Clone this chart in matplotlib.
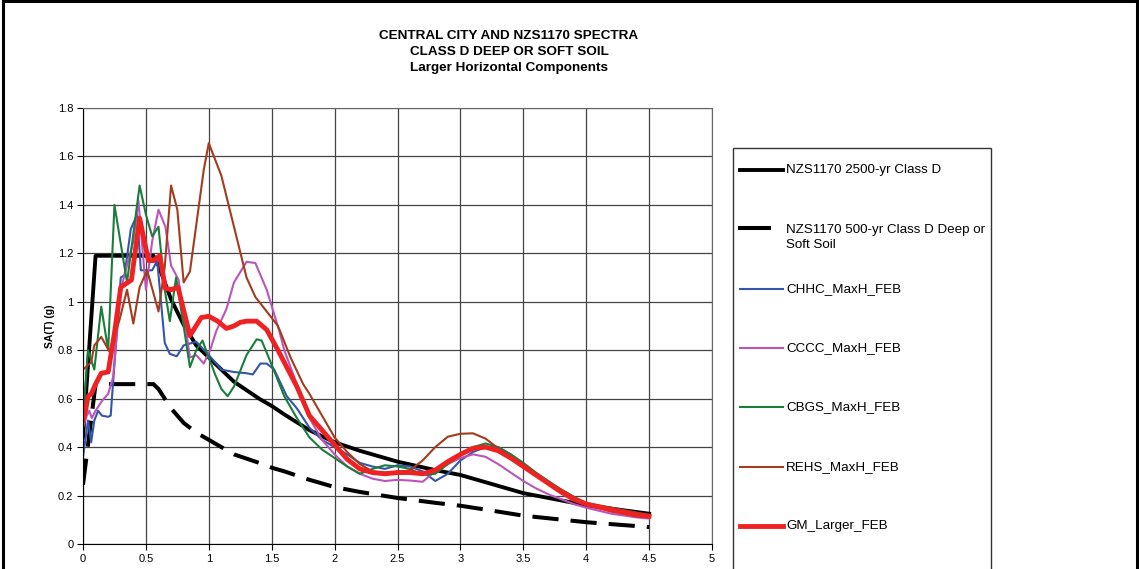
import matplotlib
matplotlib.use("Agg")
import matplotlib.pyplot as plt
from matplotlib.lines import Line2D
from matplotlib.patches import Rectangle

plt.rcParams['font.family'] = ['Liberation Sans', 'DejaVu Sans']

W, H = 1139, 569

# NZS1170 code spectra
t_code = [0, 0.1, 0.2, 0.3, 0.4, 0.5, 0.56, 0.6, 0.7, 0.8, 0.9, 1.0, 1.2, 1.4, 1.5, 1.6,
          1.8, 2.0, 2.2, 2.5, 2.8, 3.0, 3.2, 3.5, 4.0, 4.5]
sa_2500 = [0.44, 1.19, 1.19, 1.19, 1.19, 1.19, 1.19, 1.15, 1.01, 0.905, 0.82, 0.77, 0.67, 0.60,
           0.57, 0.535, 0.47, 0.42, 0.385, 0.34, 0.305, 0.285, 0.255, 0.21, 0.16, 0.125]
sa_500 = [0.245, 0.66, 0.66, 0.66, 0.66, 0.66, 0.66, 0.64, 0.56, 0.50, 0.46, 0.43, 0.37, 0.335,
          0.315, 0.30, 0.265, 0.235, 0.215, 0.19, 0.17, 0.158, 0.142, 0.117, 0.09, 0.07]

# recorded spectra
t_chhc = [0, 0.04, 0.065, 0.09, 0.12, 0.15, 0.2, 0.22, 0.3, 0.33, 0.38, 0.43, 0.46, 0.5, 0.55,
          0.59, 0.65, 0.69, 0.745, 0.8, 0.9, 1.0, 1.1, 1.2, 1.3, 1.35, 1.41, 1.46, 1.52, 1.62,
          1.7, 1.8, 1.9, 2.0, 2.1, 2.2, 2.3, 2.4, 2.5, 2.6, 2.7, 2.8, 2.9, 3.0, 3.1, 3.2, 3.3,
          3.4, 3.5, 3.6, 3.7, 3.8, 3.9, 4.0, 4.2, 4.4, 4.5]
sa_chhc = [0.36, 0.51, 0.42, 0.51, 0.55, 0.53, 0.525, 0.53, 1.10, 1.11, 1.30, 1.36, 1.13, 1.13,
           1.13, 1.17, 0.83, 0.785, 0.775, 0.82, 0.835, 0.78, 0.72, 0.71, 0.705, 0.70, 0.745,
           0.745, 0.72, 0.61, 0.56, 0.48, 0.43, 0.40, 0.37, 0.335, 0.32, 0.31, 0.325, 0.32,
           0.30, 0.26, 0.29, 0.345, 0.38, 0.40, 0.40, 0.37, 0.33, 0.29, 0.255, 0.22, 0.19,
           0.165, 0.14, 0.12, 0.115]

t_cccc = [0, 0.03, 0.05, 0.07, 0.1, 0.15, 0.2, 0.24, 0.3, 0.35, 0.4, 0.44, 0.5, 0.55, 0.6,
          0.655, 0.7, 0.76, 0.8, 0.85, 0.9, 0.96, 1.01, 1.06, 1.14, 1.2, 1.3, 1.37, 1.46, 1.56,
          1.6, 1.7, 1.8, 1.9, 2.0, 2.1, 2.2, 2.3, 2.4, 2.5, 2.6, 2.7, 2.8, 2.9, 3.0, 3.1, 3.2,
          3.3, 3.4, 3.5, 3.6, 3.7, 3.8, 3.9, 4.0, 4.2, 4.4, 4.5]
sa_cccc = [0.48, 0.53, 0.55, 0.52, 0.55, 0.59, 0.62, 0.69, 1.05, 1.15, 1.25, 1.42, 1.05, 1.25,
           1.38, 1.31, 1.15, 1.09, 0.95, 0.77, 0.78, 0.745, 0.80, 0.88, 0.97, 1.08, 1.165, 1.16,
           1.05, 0.88, 0.80, 0.66, 0.52, 0.43, 0.37, 0.32, 0.29, 0.27, 0.26, 0.265, 0.262,
           0.257, 0.30, 0.33, 0.355, 0.37, 0.36, 0.33, 0.295, 0.26, 0.23, 0.205, 0.185, 0.165,
           0.15, 0.125, 0.11, 0.105]

t_cbgs = [0, 0.04, 0.09, 0.145, 0.2, 0.25, 0.35, 0.45, 0.5, 0.55, 0.6, 0.65, 0.69, 0.74, 0.8,
          0.85, 0.9, 0.95, 1.0, 1.05, 1.1, 1.15, 1.2, 1.3, 1.38, 1.42, 1.5, 1.6, 1.7, 1.8, 1.9,
          2.0, 2.1, 2.2, 2.3, 2.4, 2.5, 2.6, 2.7, 2.8, 2.9, 3.0, 3.1, 3.2, 3.3, 3.4, 3.5, 3.6,
          3.7, 3.8, 3.9, 4.0, 4.2, 4.4, 4.5]
sa_cbgs = [0.52, 0.80, 0.72, 0.98, 0.80, 1.40, 1.08, 1.48, 1.36, 1.27, 1.31, 1.05, 0.92, 1.10,
           0.90, 0.73, 0.80, 0.84, 0.77, 0.70, 0.64, 0.61, 0.65, 0.78, 0.845, 0.84, 0.74, 0.61,
           0.52, 0.44, 0.39, 0.355, 0.32, 0.29, 0.31, 0.325, 0.32, 0.31, 0.285, 0.29, 0.33,
           0.37, 0.40, 0.415, 0.40, 0.37, 0.335, 0.295, 0.26, 0.225, 0.195, 0.165, 0.135,
           0.115, 0.11]

t_rehs = [0, 0.065, 0.09, 0.145, 0.21, 0.29, 0.35, 0.4, 0.45, 0.51, 0.6, 0.65, 0.7, 0.75, 0.8,
          0.85, 0.96, 1.0, 1.1, 1.2, 1.3, 1.37, 1.46, 1.55, 1.65, 1.75, 1.8, 1.9, 2.0, 2.1, 2.2,
          2.3, 2.4, 2.5, 2.6, 2.7, 2.8, 2.9, 3.0, 3.1, 3.2, 3.3, 3.4, 3.5, 3.6, 3.7, 3.8, 3.9,
          4.0, 4.2, 4.4, 4.5]
sa_rehs = [0.72, 0.75, 0.82, 0.855, 0.795, 0.925, 1.05, 0.91, 1.06, 1.13, 0.96, 1.145, 1.48,
           1.38, 1.08, 1.125, 1.545, 1.655, 1.52, 1.31, 1.10, 1.02, 0.96, 0.90, 0.77, 0.66,
           0.62, 0.53, 0.44, 0.38, 0.33, 0.30, 0.295, 0.295, 0.305, 0.345, 0.40, 0.443, 0.455,
           0.457, 0.435, 0.395, 0.36, 0.33, 0.29, 0.255, 0.225, 0.195, 0.17, 0.15, 0.13, 0.12]

t_gm = [0, 0.02, 0.04, 0.066, 0.1, 0.145, 0.2, 0.25, 0.3, 0.385, 0.45, 0.52, 0.56, 0.61, 0.655,
        0.7, 0.755, 0.85, 0.94, 1.0, 1.07, 1.14, 1.2, 1.25, 1.3, 1.38, 1.46, 1.55, 1.62, 1.7,
        1.8, 1.9, 2.0, 2.1, 2.2, 2.3, 2.4, 2.5, 2.6, 2.7, 2.8, 2.9, 3.0, 3.1, 3.2, 3.3, 3.4,
        3.5, 3.6, 3.7, 3.8, 3.9, 4.0, 4.2, 4.4, 4.5]
sa_gm = [0.51, 0.55, 0.61, 0.62, 0.66, 0.705, 0.71, 0.87, 1.06, 1.09, 1.345, 1.17, 1.17, 1.19,
         1.055, 1.05, 1.06, 0.86, 0.935, 0.94, 0.92, 0.89, 0.90, 0.915, 0.92, 0.92, 0.885,
         0.80, 0.73, 0.65, 0.53, 0.47, 0.41, 0.35, 0.31, 0.295, 0.29, 0.295, 0.295, 0.29,
         0.305, 0.34, 0.37, 0.395, 0.40, 0.385, 0.355, 0.32, 0.285, 0.25, 0.215, 0.185, 0.165,
         0.14, 0.12, 0.115]

labels = ['NZS1170 2500-yr Class D', 'NZS1170 500-yr Class D Deep or\nSoft Soil',
          'CHHC_MaxH_FEB', 'CCCC_MaxH_FEB', 'CBGS_MaxH_FEB', 'REHS_MaxH_FEB', 'GM_Larger_FEB']
x_ticks = [0, 0.5, 1, 1.5, 2, 2.5, 3, 3.5, 4, 4.5, 5]
y_ticks = [0, 0.2, 0.4, 0.6, 0.8, 1.0, 1.2, 1.4, 1.6, 1.8]

series = [
    (t_code, sa_2500, dict(color='black', lw=2.8)),
    (t_code, sa_500, dict(color='black', lw=2.9, dashes=(6.5, 3.0), dash_capstyle='butt')),
    (t_chhc, sa_chhc, dict(color='#3355aa', lw=1.5)),
    (t_cccc, sa_cccc, dict(color='#bb55bb', lw=1.5)),
    (t_cbgs, sa_cbgs, dict(color='#1b7d3c', lw=1.5)),
    (t_rehs, sa_rehs, dict(color='#a33c1e', lw=1.5)),
    (t_gm, sa_gm, dict(color='#ee2222', lw=3.5)),
]

fig = plt.figure(figsize=(W / 100, H / 100), dpi=100)
ax = fig.add_axes([83 / W, 1 - 544 / H, (712 - 83) / W, (544 - 108) / H])

for t, sa, style in series:
    ax.plot(t, sa, solid_joinstyle='round', **style)

ax.set_xlim(0, 5)
ax.set_ylim(0, 1.8)
ax.set_xticks(x_ticks)
ax.set_yticks(y_ticks)
ax.set_xticklabels(['%g' % v for v in x_ticks])
ax.set_yticklabels(['%g' % v for v in y_ticks])
ax.tick_params(labelsize=8, length=4, width=0.8, direction='out', pad=3)
ax.grid(True, color='#444444', lw=0.9)
ax.set_axisbelow(True)
for side in ['top', 'right']:
    ax.spines[side].set_color('#666666')
for side in ['left', 'bottom']:
    ax.spines[side].set_color('black')
ax.set_ylabel('SA(T) (g)', fontsize=7.5, fontweight='bold', labelpad=2)

fig.text(509 / W, 1 - 30 / H,
         'CENTRAL CITY AND NZS1170 SPECTRA\nCLASS D DEEP OR SOFT SOIL\nLarger Horizontal Components',
         ha='center', va='top', fontsize=9.7, fontweight='bold', linespacing=1.47)

# legend drawn by hand so the tall box matches the original
fig.patches.append(Rectangle((733 / W, -0.2), (991 - 733) / W, 1.2 - 148 / H,
                             transform=fig.transFigure, fill=False, ec='#333333', lw=1.0))
leg_y = [170, 228, 289, 348, 407, 467, 526]
for (t, sa, style), lab, y in zip(series, labels, leg_y):
    st = dict(style)
    x1 = 769 if 'dashes' in st else 783
    st.pop('dashes', None)
    fig.lines.append(Line2D([740 / W, x1 / W], [1 - y / H, 1 - y / H],
                            transform=fig.transFigure, **st))
    if '\n' in lab:
        fig.text(786 / W, 1 - (y - 4) / H, lab, ha='left', va='top', fontsize=9.6,
                 linespacing=1.3)
    else:
        fig.text(786 / W, 1 - y / H, lab, ha='left', va='center', fontsize=9.6)

# outer frame
fig.patches.append(Rectangle((3 / W, -0.2), (1137 - 3) / W, 1.2 - 1.5 / H,
                             transform=fig.transFigure, fill=False, ec='black', lw=2.2))

fig.savefig('out.png', dpi=100)
